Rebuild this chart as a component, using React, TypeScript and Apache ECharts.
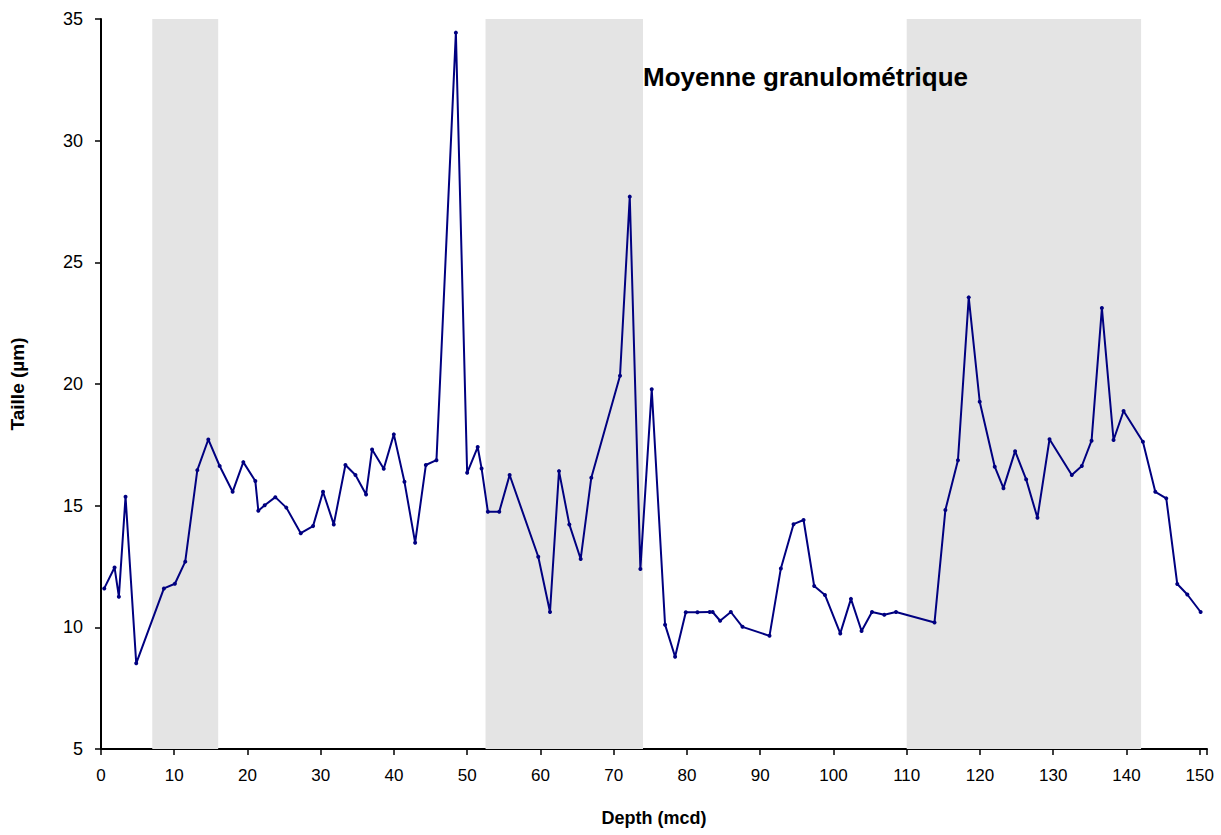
import React, { useEffect, useRef } from "react";
import * as echarts from "echarts";

const depth = [
  0.44, 1.85, 2.44, 3.35, 4.81, 8.59, 10.09, 11.5, 13.15, 14.65, 16.2, 17.97, 19.43, 21.07, 21.48,
  22.35, 23.8, 25.3, 27.27, 28.95, 30.31, 31.78, 33.37, 34.74, 36.19, 37.01, 38.6, 39.98, 41.43,
  42.89, 44.35, 45.8, 48.45, 49.99, 51.43, 51.96, 52.82, 54.37, 55.79, 59.7, 61.3, 62.53, 63.94,
  65.49, 66.94, 70.86, 72.19, 73.64, 75.19, 77.01, 78.38, 79.84, 81.43, 83.1, 83.5, 84.53, 85.99,
  87.58, 91.27, 92.82, 94.55, 95.92, 97.37, 98.84, 100.93, 102.39, 103.84, 105.26, 106.94, 108.54,
  113.8, 115.28, 117.0, 118.47, 119.97, 122.02, 123.21, 124.8, 126.31, 127.85, 129.5, 132.54,
  133.91, 135.24, 136.65, 138.24, 139.61, 142.25, 143.94, 145.44, 146.94, 148.31, 150.13,
];

const taille = [
  11.6, 12.46, 11.26, 15.37, 8.52, 11.6, 11.79, 12.7, 16.46, 17.72, 16.63, 15.57, 16.79, 16.01, 14.79,
  15.02, 15.35, 14.92, 13.87, 14.16, 15.57, 14.23, 16.67, 16.26, 15.46, 17.31, 16.52, 17.93, 15.98,
  13.48, 16.67, 16.87, 34.44, 16.35, 17.41, 16.53, 14.75, 14.75, 16.26, 12.9, 10.63, 16.42, 14.23,
  12.81, 16.15, 20.34, 27.7, 12.4, 19.78, 10.11, 8.79, 10.62, 10.62, 10.63, 10.63, 10.27, 10.63,
  10.02, 9.65, 12.42, 14.24, 14.41, 11.7, 11.33, 9.75, 11.17, 9.85, 10.63, 10.52, 10.63,
  10.2, 14.82, 16.87, 23.56, 19.27, 16.6, 15.72, 17.24, 16.08, 14.5, 17.73, 16.26,
  16.63, 17.67, 23.12, 17.7, 18.89, 17.63, 15.57, 15.3, 11.78, 11.35, 10.63,
];

const bandStarts = [7, 52.5, 110];
const bandEnds = [16, 74, 142];

const titleText = "Moyenne granulométrique";
const xName = "Depth (mcd)";
const yName = "Taille (µm)";

const FONT = "'Liberation Sans', Arial, sans-serif";

export default function App() {
  const ref = useRef<HTMLDivElement>(null);

  useEffect(() => {
    if (!ref.current) return;
    const chart = echarts.init(ref.current, undefined, { renderer: "svg" });
    const points = depth.map((d, i) => [d, taille[i]]);
    const bands = bandStarts.map((s, i) => [{ xAxis: s }, { xAxis: bandEnds[i] }]);
    chart.setOption({
      animation: false,
      backgroundColor: "#ffffff",
      textStyle: { fontFamily: FONT },
      grid: { left: 101, right: 14, top: 19, bottom: 86, containLabel: false },
      xAxis: {
        type: "value",
        min: 0,
        max: 151,
        interval: 10,
        name: xName,
        nameLocation: "middle",
        nameGap: 60,
        nameTextStyle: { fontFamily: FONT, fontWeight: "bold", fontSize: 18, color: "#000" },
        axisLine: { show: true, lineStyle: { color: "#000", width: 2 } },
        axisTick: { show: true, length: 6, lineStyle: { color: "#000", width: 1.5 } },
        axisLabel: {
          fontFamily: FONT,
          fontSize: 17,
          color: "#000",
          margin: 18,
          formatter: (v: number) => (v % 10 === 0 ? String(v) : ""),
        },
        splitLine: { show: false },
      },
      yAxis: {
        type: "value",
        min: 5,
        max: 35,
        interval: 5,
        name: yName,
        nameLocation: "middle",
        nameGap: 74,
        nameRotate: 90,
        nameTextStyle: { fontFamily: FONT, fontWeight: "bold", fontSize: 19, color: "#000" },
        axisLine: { show: true, lineStyle: { color: "#000", width: 2 } },
        axisTick: { show: true, length: 6, lineStyle: { color: "#000", width: 1.5 } },
        axisLabel: { fontFamily: FONT, fontSize: 18, color: "#000", margin: 18 },
        splitLine: { show: false },
      },
      series: [
        {
          type: "line",
          data: points,
          symbol: "circle",
          symbolSize: 4,
          showSymbol: true,
          lineStyle: { color: "#000080", width: 2 },
          itemStyle: { color: "#000080" },
          markArea: {
            silent: true,
            itemStyle: { color: "#e4e4e4" },
            data: bands,
          },
        },
      ],
      graphic: [
        {
          type: "text",
          left: 643,
          top: 64,
          z: 100,
          zlevel: 0,
          style: {
            text: titleText,
            font: `bold 26px ${FONT}`,
            fill: "#000",
          },
        },
      ],
    });
    return () => chart.dispose();
  }, []);

  return (
    <div
      ref={ref}
      style={{ position: "fixed", left: 0, top: 0, width: 1221, height: 835 }}
    />
  );
}
